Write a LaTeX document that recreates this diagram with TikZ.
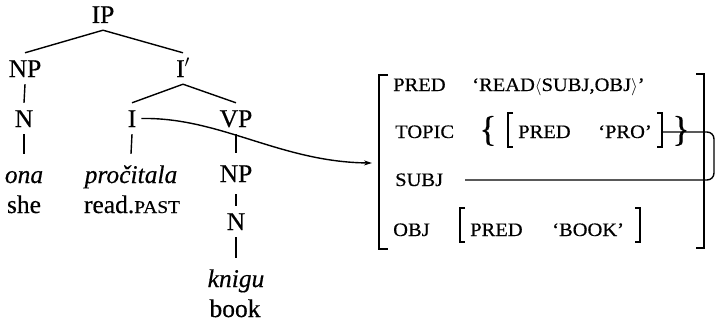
\documentclass[tikz,border=0pt]{standalone}
\usepackage{fontspec}
\setmainfont{Liberation Serif}[FakeBold=0.4]
\newfontfamily\smc[FakeStretch=1.08,FakeBold=0.5]{Liberation Serif}
\usetikzlibrary{arrows.meta}
\begin{document}
\begin{tikzpicture}[x=1pt,y=-1pt,
  lbl/.style={font=\fontsize{25.5}{30}\selectfont, anchor=base, inner ysep=7pt, inner xsep=1pt, text height=17pt, text depth=0pt},
  leaf/.style={lbl, inner ysep=12pt},
  gloss/.style={font=\fontsize{25.5}{30}\selectfont, anchor=base, inner sep=0pt},
  avm/.style={font=\smc\fontsize{19}{22}\selectfont, anchor=base west, inner sep=0pt},
  brace/.style={font=\fontsize{36}{36}\selectfont, anchor=base, inner sep=0pt},
  edge/.style={line width=1.4pt},
  outerbr/.style={line width=2.2pt},
  innerbr/.style={line width=1.4pt},
  ]
\useasboundingbox (0,0) rectangle (715,324);
% tree
\node[lbl] (IP) at (103,23) {IP};
\node[lbl] (NP) at (25,77) {NP};
\node[lbl] (Ib) at (183,77) {I$'$};
\node[lbl] (N) at (24,127) {N};
\node[lbl] (I) at (132,127) {I};
\node[lbl] (VP) at (236,127) {VP};
\node[leaf] (ona) at (24,183) {\itshape ona};
\node[leaf] (procitala) at (131,183) {\itshape pročitala};
\node[leaf] (NP2) at (236,182) {NP};
\node[gloss] (she) at (24,213) {she};
\node[gloss] (read) at (132,213) {read.{\smc\fontsize{18}{20}\selectfont PAST}};
\node[lbl] (N2) at (236,230) {N};
\node[leaf] (knigu) at (236,287) {\itshape knigu};
\node[gloss] (book) at (235,317) {book};
\draw[edge] (IP.south) -- (NP.north);
\draw[edge] (IP.south) -- (Ib.north);
\draw[edge] (NP.south) -- (N.north);
\draw[edge] (N.south) -- (ona.north);
\draw[edge] (Ib.south) -- (I.north);
\draw[edge] (Ib.south) -- (VP.north);
\draw[edge] (I.south) -- (procitala.north);
\draw[edge] (VP.south) -- (NP2.north);
\draw[edge] (NP2.south) -- (N2.north);
\draw[edge] (N2.south) -- (knigu.north);
% AVM
\draw[outerbr] (388,75) -- (379,75) -- (379,249) -- (388,249);
\draw[outerbr] (696,74) -- (704,74) -- (704,248) -- (696,248);
\node[avm] (pred) at (393,91) {PRED};
\node[avm] (readv) at (472,91) {‘READ$\langle$SUBJ,OBJ$\rangle$’};
\node[avm] (topic) at (395,138) {TOPIC};
\node[brace] (lbrace) at (488,141) {\{};
\draw[innerbr] (513,113) -- (508,113) -- (508,147) -- (513,147);
\node[avm] (tpred) at (518,138) {PRED};
\node[avm] (pro) at (598,138) {‘PRO’};
\draw[innerbr] (657,113) -- (662,113) -- (662,147) -- (657,147);
\node[brace] (rbrace) at (681,141) {\}};
\node[avm] (subj) at (395,186) {SUBJ};
\node[avm] (obj) at (393,236) {OBJ};
\draw[innerbr] (465,208) -- (460,208) -- (460,242) -- (465,242);
\node[avm] (opred) at (470,236) {PRED};
\node[avm] (bookv) at (552,236) {‘BOOK’};
\draw[innerbr] (635,208) -- (640,208) -- (640,242) -- (635,242);
% structure-sharing line
\coordinate (proend) at (662,132);
\coordinate (subjline) at (465,180);
\draw[innerbr, rounded corners=7pt] (proend) -- (714,132) -- (714,180) -- (subjline);
% arrow
\coordinate (avmin) at (372,163);
\draw[edge, -{Stealth[length=8pt,width=5pt]}] ([xshift=4pt]I.east) .. controls (220,117) and (280,162) .. (avmin);
\end{tikzpicture}
\end{document}
